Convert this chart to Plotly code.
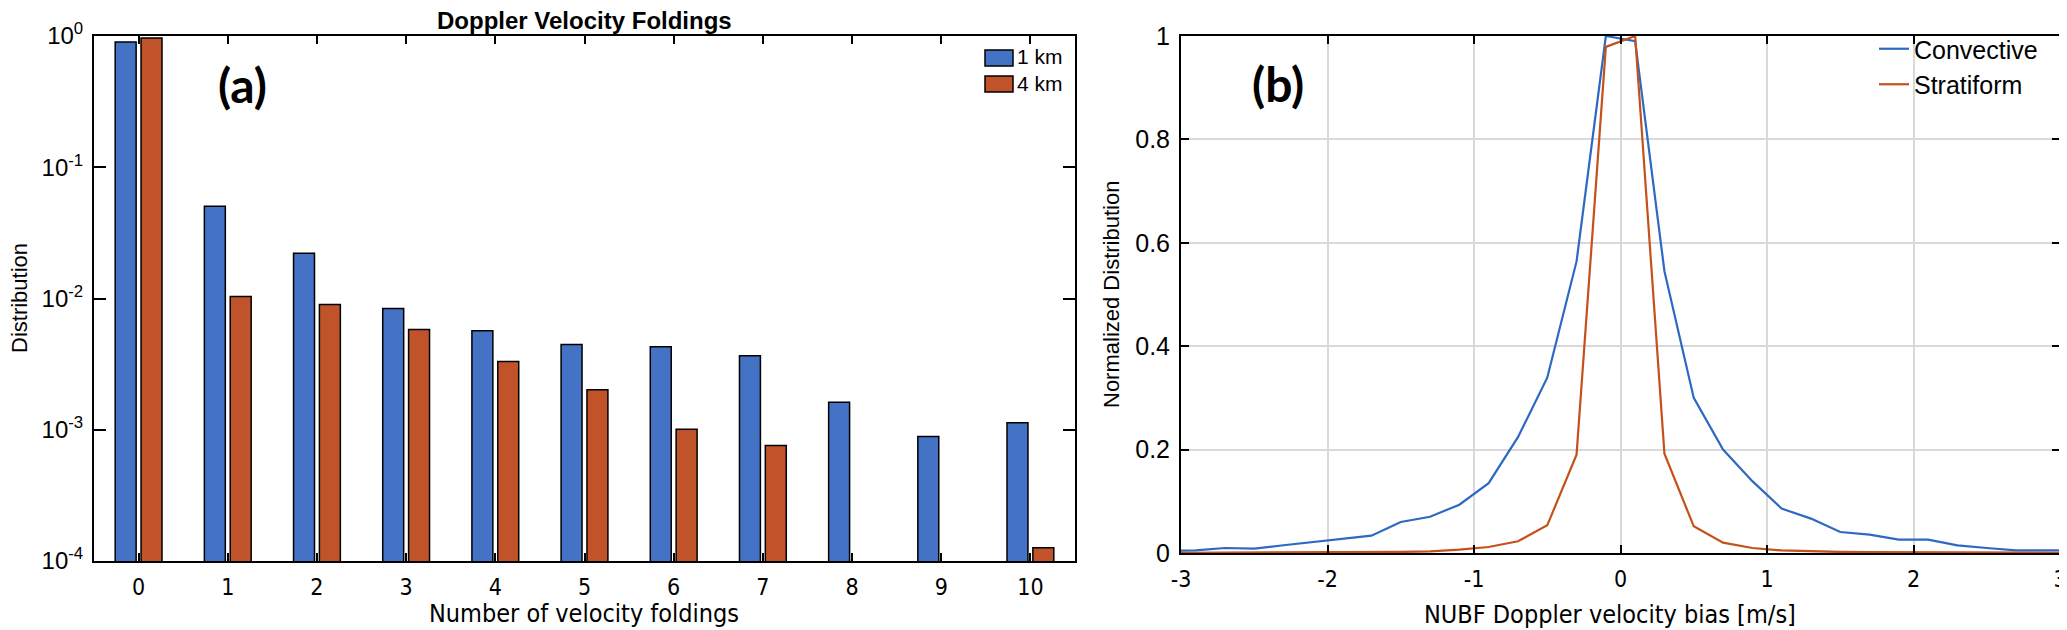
import plotly.graph_objects as go

# panel (a): velocity foldings
foldings = [0, 1, 2, 3, 4, 5, 6, 7, 8, 9, 10]
dist_1km = [0.90, 0.0504, 0.0221, 0.0084, 0.00569, 0.00446, 0.00428, 0.00367, 0.00162, 0.00089, 0.00113]
dist_4km = [0.965, 0.01035, 0.0090, 0.0058, 0.00331, 0.00202, 0.00101, 0.00076, None, None, 0.000126]
log_ticks = [1e-4, 1e-3, 1e-2, 1e-1, 1]
log_labels = ['10<sup>-4</sup>', '10<sup>-3</sup>', '10<sup>-2</sup>', '10<sup>-1</sup>', '10<sup>0</sup>']

# panel (b): NUBF bias distributions
bias = [-3.1, -2.9, -2.7, -2.5, -2.3, -2.1, -1.9, -1.7, -1.5, -1.3, -1.1, -0.9, -0.7, -0.5, -0.3, -0.1,
        0.1, 0.3, 0.5, 0.7, 0.9, 1.1, 1.3, 1.5, 1.7, 1.9, 2.1, 2.3, 2.5, 2.7, 2.9, 3.1]
convective = [0.004, 0.005, 0.0097, 0.0084, 0.015, 0.021, 0.027, 0.0335, 0.060, 0.070, 0.0935, 0.135,
              0.224, 0.339, 0.564, 1.0, 0.99, 0.545, 0.30, 0.20, 0.139, 0.0858, 0.0665, 0.0406,
              0.0355, 0.0258, 0.0258, 0.0148, 0.0097, 0.005, 0.005, 0.005]
stratiform = [0.0003, 0.0004, 0.0005, 0.0006, 0.0008, 0.001, 0.0012, 0.0015, 0.002, 0.003, 0.0065, 0.0116,
              0.0226, 0.0535, 0.19, 0.979, 1.0, 0.192, 0.0516, 0.020, 0.0097, 0.005, 0.003, 0.002,
              0.0015, 0.0012, 0.001, 0.0008, 0.0006, 0.0005, 0.0004, 0.0003]
bias_ticks = [-3, -2, -1, 0, 1, 2, 3]
bias_labels = ['-3', '-2', '-1', '0', '1', '2', '3']
norm_ticks = [0, 0.2, 0.4, 0.6, 0.8, 1]
norm_labels = ['0', '0.2', '0.4', '0.6', '0.8', '1']

W, H = 2067, 630
BLUE_BAR, ORANGE_BAR = '#4472C4', '#C0532A'
BLUE_LINE, ORANGE_LINE = '#2D69C4', '#C4501A'
ARIAL = 'Liberation Sans, Arial, sans-serif'
COND = 'Liberation Sans Narrow, DejaVu Sans Condensed, sans-serif'


def px(x):
    return x / W


def py(y):
    return 1 - y / H


fig = go.Figure()
fig.add_trace(go.Bar(x=foldings, y=dist_1km, name='1 km', marker_color=BLUE_BAR,
                     marker_line=dict(color='black', width=1.5), showlegend=False,
                     xaxis='x', yaxis='y'))
fig.add_trace(go.Bar(x=foldings, y=dist_4km, name='4 km', marker_color=ORANGE_BAR,
                     marker_line=dict(color='black', width=1.5), showlegend=False,
                     xaxis='x', yaxis='y'))
fig.add_trace(go.Scatter(x=bias, y=convective, mode='lines', name='Convective',
                         line=dict(color=BLUE_LINE, width=2.2), xaxis='x2', yaxis='y2'))
fig.add_trace(go.Scatter(x=bias, y=stratiform, mode='lines', name='Stratiform',
                         line=dict(color=ORANGE_LINE, width=2.2), xaxis='x2', yaxis='y2'))

axis_common = dict(showline=True, linecolor='black', linewidth=2, mirror='allticks',
                   ticks='inside', tickcolor='black', tickwidth=2, zeroline=False,
                   automargin=False)

# minor log ticks (2..9 in each decade) on an overlay axis
minor_ticks = [m * 10 ** e for e in range(-4, 0) for m in range(2, 10)]

fig.update_layout(
    width=W, height=H,
    margin=dict(l=0, r=0, t=0, b=0),
    paper_bgcolor='white', plot_bgcolor='white',
    barmode='group', bargap=0.42, bargroupgap=0.19,
    xaxis=dict(domain=[px(86), px(1067)], range=[-0.5, 10.5], tickvals=foldings,
               ticklen=8, showgrid=False, tickfont=dict(family=COND, size=23, color='black'),
               ticklabelstandoff=4, anchor='y', **axis_common),
    yaxis=dict(domain=[py(553), py(28)], type='log', range=[-4, 0], tickvals=log_ticks,
               ticktext=log_labels, ticklen=12, showgrid=False,
               tickfont=dict(family=ARIAL, size=24, color='black'), ticklabelstandoff=4,
               anchor='x', **axis_common),
    yaxis3=dict(domain=[py(553), py(28)], type='log', range=[-4, 0], tickvals=minor_ticks,
                showticklabels=False, ticks='inside', ticklen=6, tickwidth=1.5, tickcolor='black',
                mirror='ticks', showline=False, showgrid=False, zeroline=False,
                overlaying='y', anchor='x', automargin=False),
    xaxis2=dict(domain=[px(1173), px(2052)], range=[-3, 3], tickvals=bias_ticks,
                ticktext=bias_labels, ticklen=8, ticklabeloverflow='allow',
                showgrid=True, gridcolor='#d9d9d9', gridwidth=1.5,
                tickfont=dict(family=COND, size=23, color='black'), ticklabelstandoff=4,
                anchor='y2', **axis_common),
    yaxis2=dict(domain=[py(545), py(28)], range=[0, 1], ticklen=8,
                tickvals=norm_ticks, ticktext=norm_labels,
                showgrid=True, gridcolor='#d9d9d9', gridwidth=1.5,
                tickfont=dict(family=ARIAL, size=25, color='black'), ticklabelstandoff=4,
                anchor='x2', **axis_common),
    legend=dict(x=px(1866), y=py(18), xanchor='left', yanchor='top',
                bgcolor='rgba(0,0,0,0)', font=dict(family=ARIAL, size=25, color='black'),
                itemwidth=30, tracegroupgap=0),
)

# bar legend drawn by hand, like the MATLAB one
for i, (label, color) in enumerate([('1 km', BLUE_BAR), ('4 km', ORANGE_BAR)]):
    top = 42 + i * 26
    fig.add_shape(type='rect', xref='paper', yref='paper',
                  x0=px(977), x1=px(1005), y0=py(top + 16), y1=py(top),
                  fillcolor=color, line=dict(color='black', width=1.5))
    fig.add_annotation(text=label, xref='paper', yref='paper', x=px(1007), y=py(top + 7),
                       xanchor='left', yanchor='middle', showarrow=False,
                       font=dict(family=ARIAL, size=21, color='black'))

notes = [
    ('<b>Doppler Velocity Foldings</b>', 576, 12, 0, dict(family=ARIAL, size=24)),
    ('<b>(a)</b>', 234, 76, 0, dict(family='Lato, ' + ARIAL, size=48)),
    ('<b>(b)</b>', 1270, 75, 0, dict(family='Lato, ' + ARIAL, size=48)),
    ('Number of velocity foldings', 576, 605, 0, dict(family=COND, size=25)),
    ('NUBF Doppler velocity bias [m/s]', 1602, 606, 0, dict(family=COND, size=25)),
    ('Distribution', 12, 290, -90, dict(family=ARIAL, size=22)),
    ('Normalized Distribution', 1104, 287, -90, dict(family=ARIAL, size=22)),
]
for text, x, y, ang, font in notes:
    font['color'] = 'black'
    fig.add_annotation(text=text, xref='paper', yref='paper', x=px(x), y=py(y),
                       xanchor='center', yanchor='middle', showarrow=False,
                       textangle=ang, font=font)

fig.write_html("out.html")
